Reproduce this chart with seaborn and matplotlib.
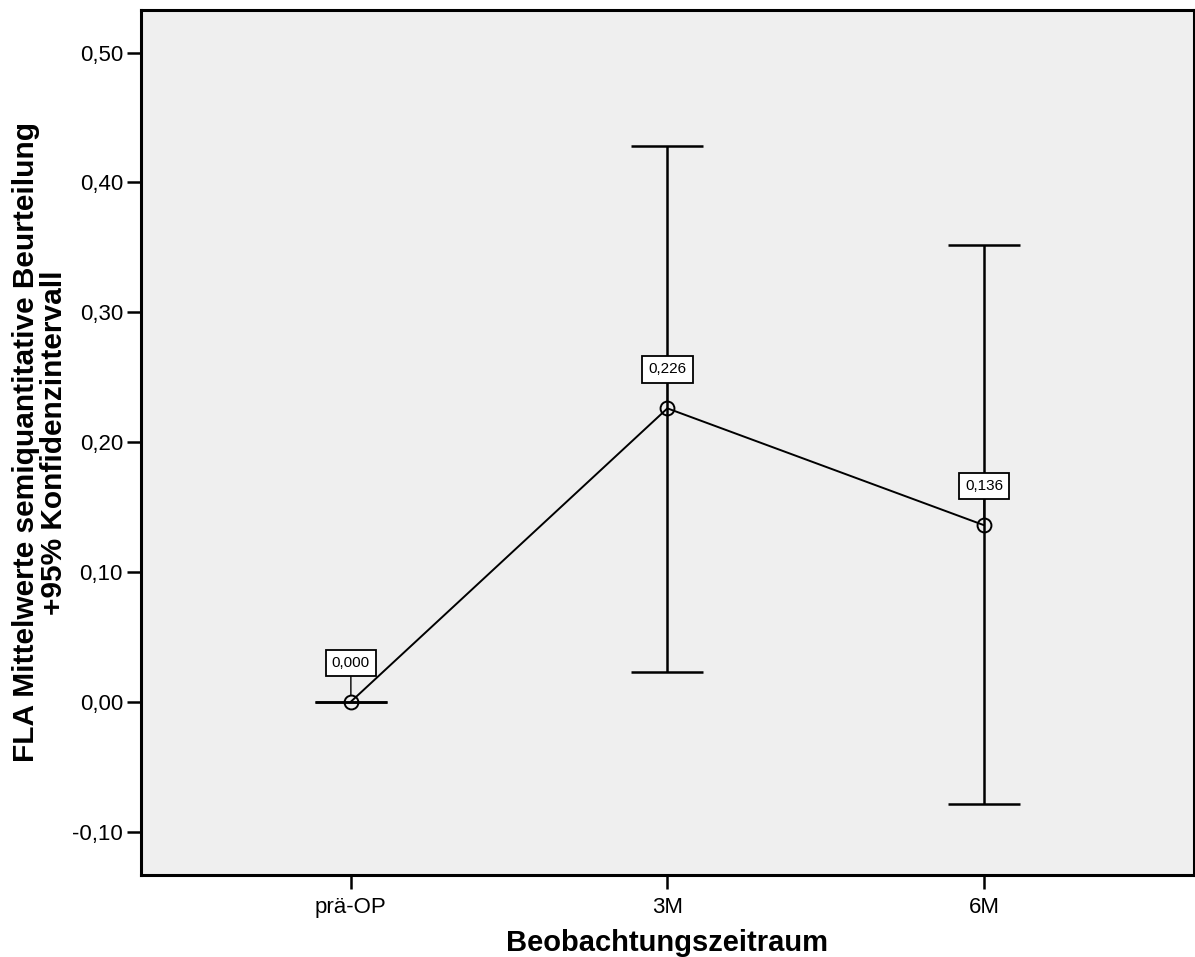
import seaborn as sns
import matplotlib.pyplot as plt
import pandas as pd
import numpy as np
from matplotlib.ticker import FuncFormatter, MultipleLocator

# summary values
zeitraum = ["prä-OP", "3M", "6M"]
mittelwert = [0.000, 0.226, 0.136]
ci_unten = [0.000, 0.023, -0.079]
ci_oben = [0.000, 0.428, 0.352]

df = pd.DataFrame({"Zeitraum": zeitraum, "Mittelwert": mittelwert})

sns.set_style("ticks")
plt.rcParams["font.family"] = ["Liberation Sans", "DejaVu Sans"]
plt.rcParams["text.color"] = "black"
plt.rcParams["axes.labelcolor"] = "black"
plt.rcParams["xtick.color"] = "black"
plt.rcParams["ytick.color"] = "black"

fig = plt.figure(figsize=(11.95, 9.57), dpi=100)
ax = fig.add_axes([0.118, 0.0857, 0.881, 0.904])
ax.set_facecolor("#EFEFEF")

# error bars (95% CI)
pos = np.arange(len(zeitraum))
yerr = [np.array(mittelwert) - np.array(ci_unten), np.array(ci_oben) - np.array(mittelwert)]
ax.errorbar(pos, mittelwert, yerr=yerr, fmt="none", ecolor="black",
            elinewidth=1.8, capsize=26, capthick=1.8, zorder=2)

# mean line with open circles
sns.pointplot(data=df, x="Zeitraum", y="Mittelwert", color="black",
              errorbar=None, markers="o", linestyles="-", ax=ax,
              markersize=10, markerfacecolor="none", markeredgewidth=1.4,
              linewidth=1.4, zorder=3)

# value labels
for i, m in enumerate(mittelwert):
    ax.annotate(f"{m:.3f}".replace(".", ","), xy=(i, m), xytext=(0, 28),
                textcoords="offset points", ha="center", va="center",
                fontsize=11,
                bbox=dict(boxstyle="square,pad=0.4", fc="white", ec="black", lw=1.3),
                arrowprops=dict(arrowstyle="-", color="black", lw=1.0,
                                shrinkA=0, shrinkB=5),
                zorder=4)

ax.set_xlim(-0.663, 2.663)
ax.set_ylim(-0.1335, 0.533)
ax.yaxis.set_major_locator(MultipleLocator(0.1))
ax.yaxis.set_major_formatter(FuncFormatter(lambda v, p: f"{v:.2f}".replace(".", ",")))

ax.set_xlabel("Beobachtungszeitraum", fontsize=21, fontweight="bold", labelpad=8)
ax.set_ylabel("FLA Mittelwerte semiquantitative Beurteilung\n+95% Konfidenzintervall",
              fontsize=21.5, fontweight="bold", labelpad=3, linespacing=1.0)

ax.tick_params(axis="both", labelsize=16, length=10, width=1.8, pad=3)
ax.tick_params(axis="x", pad=6)
for s in ax.spines.values():
    s.set_visible(True)
    s.set_linewidth(2.2)
    s.set_color("black")

fig.savefig("out.png", dpi=100)
